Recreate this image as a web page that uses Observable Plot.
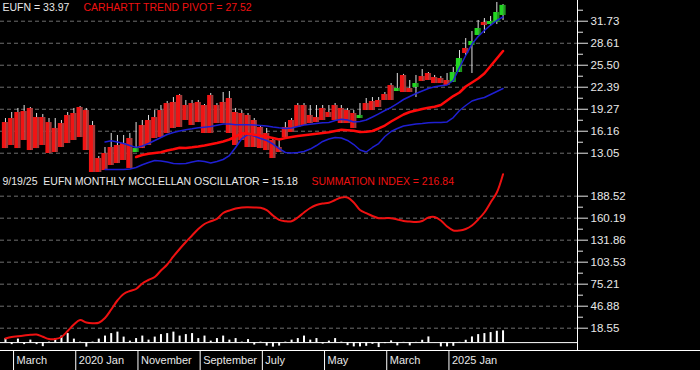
<!DOCTYPE html>
<html><head><meta charset="utf-8">
<script src="https://cdn.jsdelivr.net/npm/d3@7"></script>
<script src="https://cdn.jsdelivr.net/npm/@observablehq/plot@0.6"></script>
<style>
html,body{margin:0;padding:0;background:#000;}
#chart{position:relative;width:700px;height:370px;background:#000;overflow:hidden;}
#chart svg{display:block;}
</style></head><body><div id="chart"></div>
<script>
// Monthly data, index 0 = Jan 2019 ... 80 = Sep 2025
const opens = [17.39,17.96,18.81,18.95,19.38,18.10,18.10,17.39,16.55,17.25, 18.39,18.67,19.52,19.09,16.97,12.30,13.01,13.86,14.14,14.42, 15.13,13.15,16.97,17.68,18.10,19.09,20.08,20.23,21.22,19.80, 20.08,20.23,19.80,21.22,19.80,20.23,20.79,18.81,18.67,18.39, 17.68,16.69,15.84,14.85,13.86,16.69,17.68,19.80,19.80,18.39, 18.10,19.38,18.81,19.80,19.38,19.09,18.67,17.96,20.08,20.37, 20.51,21.36,22.63,21.78,24.05,22.21,22.35,23.90,24.33,23.76, 23.62,23.34,23.06,24.47,27.87,28.29,29.71,31.55,31.26,31.55, 32.54];
const closes = [13.71,14.14,13.71,14.85,13.43,13.71,14.14,13.01,13.15,13.86, 14.42,14.85,15.27,13.43,10.32,10.32,10.60,11.31,11.59,12.02, 10.89,13.71,13.71,14.14,15.13,15.27,15.84,16.55,16.69,17.68, 16.97,17.39,15.84,15.84,17.25,17.25,15.84,14.14,14.85,13.86, 13.86,13.71,13.43,12.30,13.15,15.27,15.98,16.69,16.97,17.25, 17.39,17.68,18.10,17.68,17.25,17.25,16.55,18.39,19.09,19.09, 19.52,20.51,20.51,22.21,21.64,21.64,22.91,23.20,23.34,22.91, 22.91,22.63,24.47,26.45,27.16,28.86,30.70,31.12,31.69,32.96, 33.97];
const highs = [17.96,18.81,19.38,19.80,19.52,18.67,18.53,17.96,17.96,17.68, 18.81,19.38,19.66,19.38,17.54,12.58,13.86,15.84,15.56,15.56, 15.84,17.39,17.68,18.39,19.09,19.80,20.37,20.93,21.36,20.51, 20.51,20.51,19.94,21.50,20.08,21.64,21.78,19.38,19.09,18.67, 17.96,16.97,16.55,15.13,15.13,17.39,17.96,20.08,20.08,19.80, 19.80,19.80,19.80,20.08,19.80,19.38,19.09,20.08,20.79,20.93, 20.93,21.64,22.91,24.33,24.20,23.34,24.05,24.89,24.47,24.05, 23.90,24.33,25.18,27.58,29.28,30.27,31.83,32.11,32.40,34.38, 34.09];
const lows = [13.71,14.14,13.71,14.85,13.43,13.71,14.14,13.01,13.15,13.86, 14.42,14.85,15.27,13.43,10.32,10.32,10.60,11.31,11.59,12.02, 10.89,13.15,13.71,14.14,15.13,15.27,15.84,16.55,16.69,17.68, 16.97,17.39,15.84,15.84,17.25,17.25,15.84,14.14,14.85,13.86, 13.86,13.71,13.43,12.30,13.15,15.27,15.98,16.69,16.97,17.25, 17.39,17.68,18.10,17.68,17.25,17.25,16.55,17.96,19.09,19.09, 19.52,20.51,20.51,21.78,21.64,21.64,20.93,23.20,23.34,22.91, 22.91,22.63,23.06,24.47,26.88,24.33,29.71,29.99,30.98,31.26, 31.83];
const N = 21, M = 16;
const trendPivot = [...Array(N).fill(null), 12.51,12.80,12.96,13.08,13.19,13.43,13.60,13.83,13.79,13.88, 14.00,14.14,14.31,14.49,14.71,14.99,15.41,15.88,15.80,15.65, 15.55,15.37,15.20,14.99,15.20,15.34,15.48,15.60,15.70,15.81, 15.91,16.02,16.19,16.36,16.29,16.22,16.05,16.08,16.19,16.55, 16.97,17.54,18.03,18.53,18.88,19.09,19.30,19.47,19.62,19.87, 20.51,21.14,21.64,22.49,23.06,23.62,24.33,25.39,26.45,27.52];
const upperBand = [...Array(M).fill(null), 14.64,14.80,14.64,14.42,14.14, 13.86,14.07,14.42,14.85,15.27,15.70,15.98,16.19,16.38,16.50, 16.64,16.73,16.83,17.00,17.17,17.18,17.08,17.07,17.07,17.04, 16.97,16.90,16.76,16.64,16.55,16.62,16.83,17.04,17.15,17.25, 17.35,17.39,17.68,17.85,17.75,17.47,17.54,17.75,18.17,18.62, 19.09,19.52,20.08,20.65,21.07,21.50,21.85,22.21,22.45,22.59, 22.70,23.34,25.18,26.88,28.50,29.57,30.41,31.19,31.83,32.33];
const lowerBand = [...Array(M).fill(null), 10.74,10.74,10.74,10.74,10.81, 11.03,11.41,11.73,12.02,11.95,11.80,11.59,11.55,11.59,11.80, 11.97,11.88,11.66,11.88,12.16,12.72,13.86,15.13,15.70,15.48, 15.13,14.85,14.35,13.71,13.15,13.08,13.15,13.29,13.64,14.14, 14.71,15.06,15.27,15.20,14.85,14.28,13.50,13.22,13.86,14.42, 15.41,16.12,16.55,16.90,17.04,17.18,17.25,17.35,17.39,17.39, 17.47,18.10,19.09,19.80,20.44,20.72,20.93,21.36,21.78,22.21];
const oscillator = [5.2,-2.6,4.5,-2.6,3.2,-2.6,-5.2,0.6,5.2,8.4, 11.6,4.5,0.6,-5.8,0.6,4.5,8.4,11.6,13.5,7.1, 1.9,5.2,8.4,3.2,7.1,10.3,11.6,13.5,8.4,10.3, 11.6,5.2,8.4,1.9,5.2,8.4,3.2,5.2,0.6,3.9, -3.2,0.6,-4.5,-5.8,-4.5,0.6,3.2,5.2,8.4,3.2, 5.2,-1.9,1.9,5.2,0.6,-3.9,-5.5,-5.5,-4.8,-2.2, -6.4,-1.3,2.2,-4.2,0.3,-4.2,0.3,3.0,7.3,-0.3, -5.5,-5.5,-4.8,0.3,3.0,7.3,10.3,11.6,12.9,14.6, 15.18];
const summation = [5.3,7.2,8.1,9.1,10.0,10.4,7.5,4.6,4.6,7.2, 14.9,23.3,29.1,25.9,25.0,25.6,31.7,42.6,54.2,62.6, 66.4,69.0,76.1,80.6,84.5,92.8,100.6,110.9,120.5,129.5, 137.9,146.3,152.7,156.2,159.2,166.9,170.1,172.7,174.0,174.2, 174.0,173.6,170.7,163.7,157.9,156.3,156.3,161.1,167.5,173.3, 177.2,179.1,180.1,183.6,186.8,186.8,180.4,170.7,166.6,163.0, 160.2,160.2,160.2,158.5,156.6,155.9,155.3,156.6,161.1,161.7, 157.2,149.5,144.3,144.3,146.3,150.8,158.5,167.5,180.4,193.3, 216.84];

const priceTicks = [13.05,16.16,19.27,22.39,25.50,28.61,31.73];
const priceMinor = [14.605,17.715,20.83,23.945,27.055,30.17,33.285];
const oscTicks = [18.55,46.88,75.21,103.53,131.86,160.19,188.52];
const oscMinor = [32.715,61.045,89.37,117.695,146.025,174.355];
const xLabelMonths = [2,12,22,32,42,52,62,72];
const xLabels = ["March","2020 Jan","November","September","July","May","March","2025 Jan"];

const titlePrice = "EUFN = 33.97";
const titlePivot = "CARHARTT TREND PIVOT = 27.52";
const titleOsc = "9/19/25\u00a0 EUFN MONTHLY MCCLELLAN OSCILLATOR = 15.18";
const titleSum = "SUMMATION INDEX = 216.84";

// build tables
const OFF = 0.7; // bar sits late in its month
const candles = opens.map((o, i) => ({k: i + OFF, open: o, close: closes[i], high: highs[i], low: lows[i], up: closes[i] > o}));
const series = (arr) => arr.map((v, i) => ({k: i + OFF, v})).filter(d => d.v != null);
const oscData = series(oscillator);
const sumData = series(summation);
const labelByMonth = new Map(xLabelMonths.map((m, i) => [m, xLabels[i]]));

const xDomain = [-0.1, 92.67];
const font = "'Liberation Sans', Arial, sans-serif";
const white = "#e8e8e8";
const red = "#ee1111";
const blue = "#1f1fd2";
const gridStyle = {stroke: "#6e6e6e", strokeDasharray: "4,3", strokeWidth: 1};

const topChart = Plot.plot({
  width: 700, height: 172,
  marginLeft: 0, marginRight: 123, marginTop: 0, marginBottom: 0,
  style: {background: "#000", color: white, fontFamily: font, overflow: "visible"},
  x: {domain: xDomain, axis: null},
  y: {domain: [10.32, 34.66]},
  marks: [
    Plot.ruleY(priceTicks, gridStyle),
    Plot.ruleX(candles, {x: "k", y1: "low", y2: "high", stroke: "#e0e0e0", strokeWidth: 1, clip: true}),
    Plot.rect(candles, {x1: d => d.k - 0.5, x2: d => d.k + 0.15, y1: "open", y2: "close", fill: d => d.up ? "#22d622" : "#f01414", clip: true}),
    Plot.rect(candles, {x1: d => d.k + 0.15, x2: d => d.k + 0.5, y1: "open", y2: "close", fill: d => d.up ? "#1c9a1c" : "#a33a3a", clip: true}),
    Plot.line(series(lowerBand), {x: "k", y: "v", stroke: blue, strokeWidth: 1.5}),
    Plot.line(series(upperBand), {x: "k", y: "v", stroke: blue, strokeWidth: 1.5}),
    Plot.line(series(trendPivot), {x: "k", y: "v", stroke: "#ff0a0a", strokeWidth: 2.5}),
    Plot.ruleX([xDomain[1]], {stroke: "#ffffff"}),
    Plot.axisY({anchor: "right", ticks: priceTicks, tickFormat: d => d.toFixed(2), tickSize: 10, tickPadding: 3, fontSize: 11.5, color: white, label: null}),
    Plot.axisY({anchor: "right", ticks: priceMinor, tickFormat: () => "", tickSize: 5, color: white, label: null}),
    Plot.text([titlePrice], {text: d => d, frameAnchor: "top-left", textAnchor: "start", lineAnchor: "top", dx: 2, dy: 3, fontSize: 10.5, fill: white}),
    Plot.text([titlePivot], {text: d => d, frameAnchor: "top-left", textAnchor: "start", lineAnchor: "top", dx: 83, dy: 3, fontSize: 10.5, fill: red})
  ]
});

const bottomChart = Plot.plot({
  width: 700, height: 198,
  marginLeft: 0, marginRight: 123, marginTop: 0, marginBottom: 20,
  style: {background: "#000", color: white, fontFamily: font, overflow: "visible"},
  x: {domain: xDomain},
  y: {domain: [-10.17, 219.0]},
  marks: [
    Plot.ruleY(oscTicks, gridStyle),
    Plot.ruleY([0], {stroke: "#ffffff"}),
    Plot.ruleX(oscData, {x: "k", y1: 0, y2: "v", stroke: "#ffffff", strokeWidth: 2}),
    Plot.line(sumData, {x: "k", y: "v", stroke: red, strokeWidth: 2, curve: "catmull-rom"}),
    Plot.ruleX([xDomain[1]], {stroke: "#ffffff"}),
    Plot.axisY({anchor: "right", ticks: oscTicks, tickFormat: d => d.toFixed(2), tickSize: 10, tickPadding: 3, fontSize: 11.5, color: white, label: null}),
    Plot.axisY({anchor: "right", ticks: oscMinor, tickFormat: () => "", tickSize: 5, color: white, label: null}),
    Plot.axisX({ticks: xLabelMonths, tickFormat: () => "", tickSize: 20, color: "#ffffff", label: null}),
    Plot.axisX({ticks: xLabelMonths, tickFormat: d => labelByMonth.get(d), tickSize: 0, tickPadding: 6, textAnchor: "start", dx: 3, fontSize: 11, color: white, label: null}),
    Plot.text([titleOsc], {text: d => d, frameAnchor: "top-left", textAnchor: "start", lineAnchor: "top", dx: 2, dy: 5, fontSize: 10.5, fill: white}),
    Plot.text([titleSum], {text: d => d, frameAnchor: "top-left", textAnchor: "start", lineAnchor: "top", dx: 311, dy: 5, fontSize: 10.5, fill: red})
  ]
});

// full-width base line of the time axis
const yb = bottomChart.scale("y").apply(-10.17);
d3.select(bottomChart).append("line")
  .attr("x1", 0).attr("x2", 700).attr("y1", yb + 0.5).attr("y2", yb + 0.5)
  .attr("stroke", "#ffffff");

const chart = document.getElementById("chart");
chart.appendChild(topChart);
chart.appendChild(bottomChart);
</script></body></html>
